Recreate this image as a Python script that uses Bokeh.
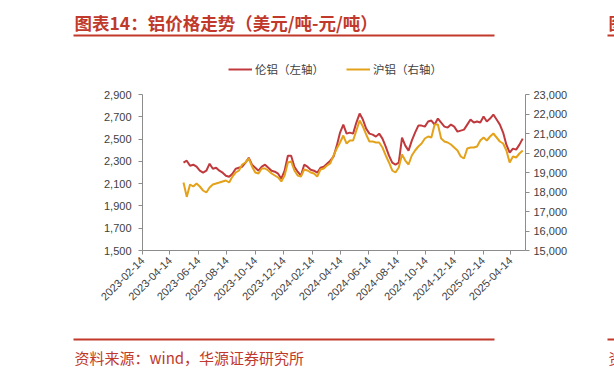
import pandas as pd
from math import pi
from bokeh.plotting import figure
from bokeh.layouts import column
from bokeh.core.properties import value
from bokeh.models import (Range1d, LinearAxis, FixedTicker, DatetimeTickFormatter,
                          NumeralTickFormatter, Legend, LegendItem)
from bokeh.embed import file_html
from bokeh.resources import INLINE

# ---------------- data (weekly) ----------------
dates = pd.date_range("2023-05-13", periods=105, freq="7D")

lme = [2288, 2306, 2261, 2270, 2252, 2216, 2198, 2216, 2279, 2234,
       2243, 2216, 2198, 2171, 2162, 2189, 2234, 2243, 2252, 2288,
       2333, 2270, 2243, 2216, 2252, 2270, 2243, 2216, 2207, 2189,
       2144, 2216, 2351, 2351, 2252, 2207, 2171, 2270, 2252, 2225,
       2216, 2198, 2243, 2252, 2279, 2306, 2342, 2441, 2558, 2630,
       2549, 2558, 2549, 2648, 2729, 2675, 2594, 2549, 2540, 2522,
       2549, 2504, 2432, 2351, 2288, 2270, 2288, 2513, 2441, 2396,
       2486, 2558, 2621, 2621, 2612, 2657, 2666, 2630, 2684, 2648,
       2612, 2603, 2630, 2612, 2567, 2576, 2585, 2630, 2675, 2648,
       2657, 2648, 2702, 2657, 2684, 2720, 2675, 2630, 2558, 2450,
       2378, 2414, 2405, 2450, 2504]

shfe = [18487, 17750, 18385, 18282, 18436, 18282, 18077, 17975, 18231, 18385,
        18436, 18487, 18539, 18590, 18487, 18795, 19000, 19103, 19410, 19513,
        19718, 19308, 19000, 18949, 19205, 19205, 19103, 18949, 18846, 18744,
        18539, 18846, 19513, 19564, 19103, 18846, 18795, 19154, 19103, 19000,
        18949, 18795, 19154, 19205, 19359, 19462, 19872, 20231, 20539, 20897,
        20487, 20641, 20641, 21154, 21667, 21359, 20949, 20590, 20590, 20539,
        20539, 20282, 19872, 19513, 19103, 19000, 19256, 19923, 19615, 19410,
        19872, 20128, 20333, 20487, 20744, 20846, 20795, 21462, 21462, 20744,
        20590, 20539, 20436, 20282, 20128, 19820, 19718, 20231, 20282, 20282,
        20333, 20641, 20795, 20641, 20846, 21000, 20795, 20590, 20487, 20128,
        19513, 19820, 19769, 19974, 20128]

x_tick_labels = ["2023-02-14", "2023-04-14", "2023-06-14", "2023-08-14", "2023-10-14",
                 "2023-12-14", "2024-02-14", "2024-04-14", "2024-06-14", "2024-08-14",
                 "2024-10-14", "2024-12-14", "2025-02-14", "2025-04-14"]
left_ticks = [1500, 1700, 1900, 2100, 2300, 2500, 2700, 2900]
right_ticks = [15000, 16000, 17000, 18000, 19000, 20000, 21000, 22000, 23000]

series_names = ["伦铝（左轴）", "沪铝（右轴）"]
title_text = "图表14：铝价格走势（美元/吨-元/吨）"
source_text = "资料来源：wind，华源证券研究所"

# ---------------- styles ----------------
RED = "#C0393D"
YEL = "#E3A21A"
TITLE_RED = "#C0392B"
AXIS_GREY = "#8C8C8C"
TXT = "#404040"
CJK = "Noto Sans CJK SC"

W = 614
HEAD_H, MAIN_H, FOOT_H = 80, 250, 47
FL, FR = 142, 525          # frame left/right in canvas px
FT, FB = 94 - HEAD_H, 250 - HEAD_H   # frame top/bottom inside main figure


def deco_fig(h):
    f = figure(width=W, height=h, output_backend="svg", toolbar_location=None,
               x_range=Range1d(0, W), y_range=Range1d(h, 0), title=None,
               x_axis_location=None, y_axis_location=None,
               min_border=0, min_border_left=0, min_border_right=0,
               min_border_top=0, min_border_bottom=0, frame_align=False)
    f.outline_line_color = None
    f.xgrid.visible = False
    f.ygrid.visible = False
    f.background_fill_color = "white"
    f.border_fill_color = "white"
    return f


# ---------------- header ----------------
head = deco_fig(HEAD_H)
head.text(x=[74], y=[22], text=[title_text], text_font=value(CJK), text_font_size="17.5px",
          text_font_style="bold", text_color=TITLE_RED, text_baseline="middle", text_align="left")
head.text(x=[608], y=[22], text=["图"], text_font=value(CJK), text_font_size="17px",
          text_font_style="bold", text_color=TITLE_RED, text_baseline="middle", text_align="left")
head.segment(x0=[73, 607], y0=[35, 35], x1=[494, 614], y1=[35, 35],
             line_color=TITLE_RED, line_width=2)
# legend proxies (kept outside the visible area; only their legend samples show)
hr1 = head.line(x=[-30, -20], y=[-30, -30], line_color=RED, line_width=2)
hr2 = head.line(x=[-30, -20], y=[-30, -30], line_color=YEL, line_width=2)
legend = Legend(items=[LegendItem(label=series_names[0], renderers=[hr1]),
                       LegendItem(label=series_names[1], renderers=[hr2])],
                orientation="horizontal", location=(228, HEAD_H - 77),
                border_line_color=None, background_fill_alpha=0,
                label_text_font=CJK, label_text_font_size="11.5px", label_text_color=TXT,
                glyph_width=24, glyph_height=14, label_standoff=3, spacing=22,
                padding=0, margin=0, label_height=14)
head.add_layout(legend, "center")

# ---------------- main chart ----------------
p = figure(width=W, height=MAIN_H, output_backend="svg", toolbar_location=None,
           x_axis_type="datetime", title=None, frame_align=False,
           x_range=Range1d(pd.Timestamp("2023-02-14"), pd.Timestamp("2025-05-16")),
           y_range=Range1d(left_ticks[0], left_ticks[-1]),
           min_border_left=FL, min_border_right=W - FR,
           min_border_top=FT, min_border_bottom=MAIN_H - FB)
p.outline_line_color = None
p.xgrid.visible = False
p.ygrid.visible = False
p.background_fill_color = "white"
p.border_fill_color = "white"

p.extra_y_ranges = {"right": Range1d(right_ticks[0], right_ticks[-1])}
raxis = LinearAxis(y_range_name="right")
p.add_layout(raxis, "right")

tick_ms = [pd.Timestamp(t).value / 1e6 for t in x_tick_labels]
xa = p.xaxis[0]
xa.ticker = FixedTicker(ticks=tick_ms)
fmt = "%Y-%m-%d"
xa.formatter = DatetimeTickFormatter(milliseconds=fmt, seconds=fmt, minsec=fmt, minutes=fmt,
                                     hourmin=fmt, hours=fmt, days=fmt, months=fmt, years=fmt)
xa.major_label_orientation = pi / 4

ya = p.yaxis[0]
ya.ticker = FixedTicker(ticks=left_ticks)
ya.formatter = NumeralTickFormatter(format="0,0")
raxis.ticker = FixedTicker(ticks=right_ticks)
raxis.formatter = NumeralTickFormatter(format="0,0")

for ax in (xa, ya, raxis):
    ax.axis_line_color = AXIS_GREY
    ax.axis_line_width = 1
    ax.major_tick_line_color = AXIS_GREY
    ax.major_tick_out = 4
    ax.major_tick_in = 0
    ax.minor_tick_line_color = None
    ax.major_label_text_font = "Liberation Sans"
    ax.major_label_text_font_size = "11px"
    ax.major_label_text_color = TXT
ya.major_label_standoff = 7
raxis.major_label_standoff = 4
xa.major_label_standoff = 4

p.line(dates, lme, line_color=RED, line_width=2)
p.line(dates, shfe, line_color=YEL, line_width=2, y_range_name="right")

# ---------------- footer ----------------
foot = deco_fig(FOOT_H)
foot.segment(x0=[73, 607], y0=[9, 9], x1=[494, 614], y1=[9, 9],
             line_color=TITLE_RED, line_width=2)
foot.text(x=[74], y=[27], text=[source_text], text_font=value(CJK), text_font_size="15px",
          text_color=TITLE_RED, text_baseline="middle", text_align="left")
foot.text(x=[608], y=[27], text=["资"], text_font=value(CJK), text_font_size="15px",
          text_color=TITLE_RED, text_baseline="middle", text_align="left")

layout = column(head, p, foot, spacing=0)
open("out.html", "w").write(file_html(layout, INLINE))
